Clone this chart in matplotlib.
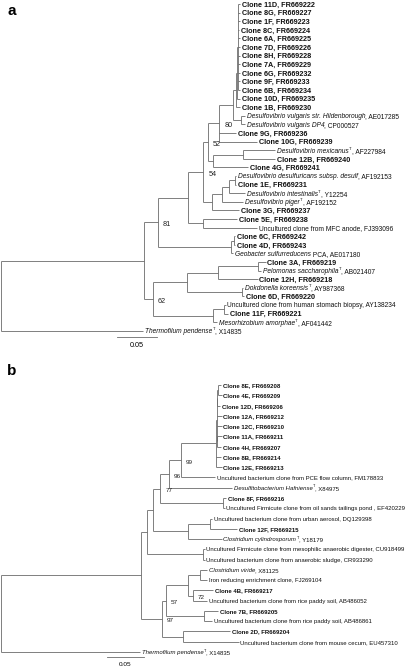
import re
import matplotlib
matplotlib.use("Agg")
import matplotlib.pyplot as plt

plt.rcParams['font.family'] = ['Liberation Sans', 'DejaVu Sans']

# ---- tree a : leaves (top to bottom), tip depth (subst./site) ----
leaves_a = [
    "Clone 11D, FR669222", "Clone 8G, FR669227", "Clone 1F, FR669223",
    "Clone 8C, FR669224", "Clone 6A, FR669225", "Clone 7D, FR669226",
    "Clone 8H, FR669228", "Clone 7A, FR669229", "Clone 6G, FR669232",
    "Clone 9F, FR669233", "Clone 6B, FR669234", "Clone 10D, FR669235",
    "Clone 1B, FR669230",
    "*Desulfovibrio vulgaris str. Hildenborough*, AE017285",
    "*Desulfovibrio vulgaris DP4*, CP000527",
    "Clone 9G, FR669236", "Clone 10G, FR669239",
    "*Desulfovibrio mexicanus*^T, AF227984", "Clone 12B, FR669240",
    "Clone 4G, FR669241",
    "*Desulfovibrio desulfuricans subsp. desulf*, AF192153",
    "Clone 1E, FR669231",
    "*Desulfovibrio intestinalis*^T, Y12254",
    "*Desulfovibrio piger*^T, AF192152",
    "Clone 3G, FR669237", "Clone 5E, FR669238",
    "Uncultured clone from MFC anode, FJ393096",
    "Clone 6C, FR669242", "Clone 4D, FR669243",
    "*Geobacter sulfurreducens* PCA, AE017180",
    "Clone 3A, FR669219", "*Pelomonas saccharophila*^T, AB021407",
    "Clone 12H, FR669218", "*Dokdonella koreensis*^T, AY987368",
    "Clone 6D, FR669220",
    "Uncultured clone from human stomach biopsy, AY138234",
    "Clone 11F, FR669221", "*Mesorhizobium amorphae*^T, AF041442",
    "*Thermofilum pendense*^T, X14835",
]
tips_a = [0.299, 0.299, 0.299, 0.298, 0.299, 0.299, 0.299, 0.299, 0.299,
          0.299, 0.299, 0.299, 0.299, 0.305, 0.305, 0.294, 0.320, 0.343,
          0.343, 0.309, 0.294, 0.294, 0.305, 0.303, 0.298, 0.295, 0.320,
          0.293, 0.293, 0.290, 0.331, 0.325, 0.321, 0.303, 0.304, 0.281,
          0.284, 0.270, 0.178]
# internal nodes, children first: (name, depth, children, bootstrap)
nodes_a = [
    ("p0", 0.296, list(range(11)), ""),
    ("p1", 0.295, ["p0", 11], ""),
    ("comb", 0.294, ["p1", 12], ""),
    ("hd", 0.300, [13, 14], ""),
    ("vulg", 0.290, ["comb", "hd"], ""),
    ("n80", 0.273, ["vulg", 15, 16], "80"),
    ("mexc", 0.303, [17, 18], ""),
    ("y4g", 0.265, ["mexc", 19], ""),
    ("n52", 0.259, ["n80", "y4g"], "52"),
    ("d1", 0.293, [20, 21], ""),
    ("d2", 0.285, ["d1", 22], ""),
    ("d3", 0.276, ["d2", 23], ""),
    ("dcl", 0.264, ["d3", 24], ""),
    ("n54", 0.253, ["n52", "dcl"], "54"),
    ("mfc", 0.253, [25, 26], ""),
    ("b", 0.234, ["n54", "mfc"], ""),
    ("g1", 0.291, [27, 28], ""),
    ("geo", 0.288, ["g1", 29], ""),
    ("n81", 0.196, ["b", "geo"], "81"),
    ("pel", 0.321, [30, 31], ""),
    ("x1", 0.271, ["pel", 32], ""),
    ("dok", 0.301, [33, 34], ""),
    ("x", 0.233, ["x1", "dok"], ""),
    ("s1", 0.279, [35, 36], ""),
    ("st", 0.265, ["s1", 37], ""),
    ("n62", 0.190, ["x", "st"], "62"),
    ("in", 0.179, ["n81", "n62"], ""),
    ("root", 0.0, ["in", 38], ""),
]

# ---- tree b ----
leaves_b = [
    "Clone 8E, FR669208", "Clone 4E, FR669209", "Clone 12D, FR669206",
    "Clone 12A, FR669212", "Clone 12C, FR669210", "Clone 11A, FR669211",
    "Clone 4H, FR669207", "Clone 8B, FR669214", "Clone 12E, FR669213",
    "Uncultured bacterium clone from PCE flow column, FM178833",
    "*Desulfitobacterium Hafniense*^T, X84975",
    "Clone 8F, FR669216",
    "Uncultured Firmicute clone from oil sands tailings pond , EF420229",
    "Uncultured bacterium clone from urban aerosol, DQ129398",
    "Clone 12F, FR669215",
    "*Clostridium cylindrosporum*^T, Y18179",
    "Uncultured Firmicute clone from mesophilic anaerobic digester, CU918499",
    "Uncultured bacterium clone from anaerobic sludge, CR933290",
    "*Clostridium viride*, X81125",
    "Iron reducing enrichment clone, FJ269104",
    "Clone 4B, FR669217",
    "Uncultured bacterium clone from rice paddy soil, AB486052",
    "Clone 7B, FR669205",
    "Uncultured bacterium clone from rice paddy soil, AB486861",
    "Clone 2D, FR669204",
    "Uncultured bacterium clone from mouse cecum, EU457310",
    "*Thermofilum pendense*^T, X14835",
]
tips_b = [0.298, 0.299, 0.297, 0.299, 0.299, 0.299, 0.298, 0.298, 0.299,
          0.290, 0.313, 0.305, 0.303, 0.286, 0.320, 0.299, 0.276, 0.276,
          0.279, 0.279, 0.287, 0.279, 0.294, 0.286, 0.310, 0.322, 0.189]
nodes_b = [
    ("c1", 0.294, [0, 1], ""),
    ("c2", 0.293, ["c1", 2], ""),
    ("c3", 0.293, [5, 6], ""),
    ("l5", 0.293, ["c2", 3, 4, "c3"], ""),
    ("cl", 0.291, ["l5", 7, 8], ""),
    ("n99", 0.244, ["cl", 9], "99"),
    ("n96", 0.228, ["n99", 10], "96"),
    ("f8", 0.301, [11, 12], ""),
    ("n77", 0.216, ["n96", "f8"], "77"),
    ("urb", 0.283, [13, 14], ""),
    ("cy", 0.253, ["urb", 15], ""),
    ("n153", 0.206, ["n77", "cy"], ""),
    ("mes", 0.274, [16, 17], ""),
    ("n147", 0.198, ["n153", "mes"], ""),
    ("vi", 0.270, [18, 19], ""),
    ("n72", 0.260, [20, 21], "72"),
    ("v2", 0.253, ["vi", "n72"], ""),
    ("rb", 0.275, [22, 23], ""),
    ("n57", 0.224, ["v2", "rb"], "57"),
    ("cec", 0.247, [24, 25], ""),
    ("n97", 0.218, ["n57", "cec"], "97"),
    ("in", 0.190, ["n147", "n97"], ""),
    ("root", 0.0, ["in", 26], ""),
]

LINE = '#6a6a6a'
INK = '#111111'


def split_label(label):
    # "*italic*" parts, "^T" superscript, rest upright
    parts = []
    for tok in re.split(r"(\*.+?\*|\^T)", label):
        if not tok:
            continue
        if tok.startswith("*"):
            parts.append((tok[1:-1], 'it'))
        elif tok == "^T":
            parts.append(("T", 'sup'))
        else:
            parts.append((tok, 'rm'))
    return parts


def put_label(ax, x, y, label, fs, fs_clone):
    if label.startswith("Clone"):
        ax.annotate(label, (x, y), xytext=(1.2, -fs_clone * 0.36),
                    textcoords='offset points', fontsize=fs_clone,
                    fontweight='bold', va='baseline', ha='left', color=INK)
        return
    base = -fs * 0.36     # baseline offset below the row centre
    prev = None
    for txt, style in split_label(label):
        kw = dict(ha='left', va='baseline', color=INK, fontsize=fs,
                  fontstyle='italic' if style == 'it' else 'normal',
                  textcoords='offset points')
        dy = base
        if style == 'sup':
            kw['fontsize'] = fs * 0.62
            dy = base + fs * 0.42
        if prev is None:
            prev = ax.annotate(txt, (x, y), xytext=(1.2, dy), **kw)
        else:
            prev = ax.annotate(txt, (1, y), xycoords=(prev, 'data'),
                               xytext=(0.15 if style == 'sup' else 0, dy),
                               **kw)


def draw_tree(ax, leaves, tips, nodes, fs, fs_clone, bfs):
    xs = {i: t for i, t in enumerate(tips)}
    ys = {i: float(i) for i in range(len(tips))}
    for name, depth, kids, sup in nodes:
        ky = [ys[k] for k in kids]
        ys[name] = (min(ky) + max(ky)) / 2
        xs[name] = depth
        ax.plot([depth, depth], [min(ky), max(ky)], color=LINE, lw=0.6,
                solid_capstyle='butt')
        for k in kids:
            ax.plot([depth, xs[k]], [ys[k], ys[k]], color=LINE, lw=0.6,
                    solid_capstyle='butt')
        if sup:
            ax.annotate(sup, (depth, ys[name]), xytext=(3.5, -1.5),
                        textcoords='offset points', fontsize=bfs,
                        va='center', ha='left', color='#222222')
    for i, lab in enumerate(leaves):
        put_label(ax, tips[i], i, lab, fs, fs_clone)


W, H = 416, 667
fig = plt.figure(figsize=(W / 100, H / 100), dpi=100)

# panel a occupies pixel rows 0..360
ax_a = fig.add_axes([0, 1 - 360 / H, 1, 360 / H])
ax_a.set_xlim(-1 / 800, 415 / 800)
ax_a.set_ylim((360 - 4) / 8.6, -4 / 8.6)
ax_a.axis('off')
draw_tree(ax_a, leaves_a, tips_a, nodes_a, 4.8, 5.2, 5.2)
ax_a.plot([0.145, 0.195], [38.7, 38.7], color=LINE, lw=0.6)
ax_a.text(0.17, 39.75, "0.05", ha='center', va='center', fontsize=5.2)

# panel b occupies pixel rows 360..667
ax_b = fig.add_axes([0, 0, 1, 307 / H])
ax_b.set_xlim(-0.5 / 740, 415.5 / 740)
ax_b.set_ylim((667 - 385) / 10.27, (360 - 385) / 10.27)
ax_b.axis('off')
draw_tree(ax_b, leaves_b, tips_b, nodes_b, 4.3, 4.3, 4.6)
ax_b.plot([0.144, 0.194], [26.5, 26.5], color=LINE, lw=0.6)
ax_b.text(0.169, 27.2, "0.05", ha='center', va='center', fontsize=4.6)

fig.text(7 / W, 1 - 11 / H, "a", fontsize=11, fontweight='bold',
         ha='left', va='center')
fig.text(7 / W, 1 - 371 / H, "b", fontsize=11, fontweight='bold',
         ha='left', va='center')

fig.savefig("out.png", dpi=100)
